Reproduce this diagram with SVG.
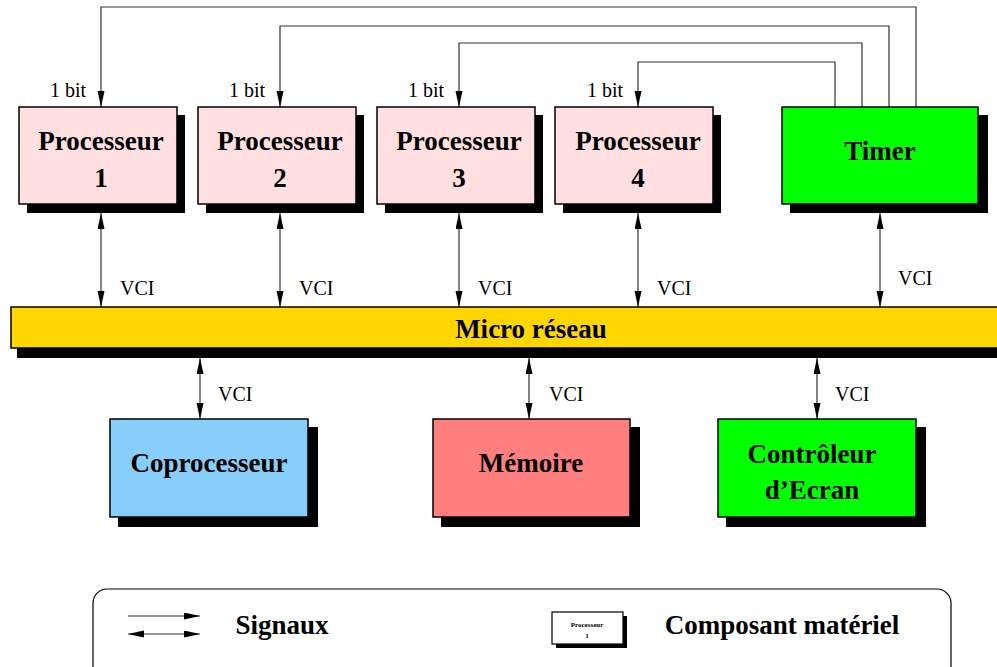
<svg xmlns="http://www.w3.org/2000/svg" width="997" height="667" viewBox="0 0 997 667">
<style>
.box{stroke:#000;stroke-width:1.5}
.sh{fill:#000}
.t{font-family:"Liberation Serif","Times New Roman",serif;font-weight:bold;font-size:27px;text-anchor:middle;fill:#000}
.s{font-family:"Liberation Serif","Times New Roman",serif;font-size:20px;fill:#000}
.c{fill:none;stroke:#333;stroke-width:1.2}
.proc{fill:#ffdfdf}
</style>
<defs>
<marker id="ah" markerUnits="userSpaceOnUse" markerWidth="17" markerHeight="8" refX="16" refY="3.5" orient="auto-start-reverse">
<path d="M0,0 L16,3.5 L0,7 z" fill="#000"/>
</marker>
</defs>
<rect width="997" height="667" fill="#fff"/>

<g id="connectors">
<path class="c" d="M916,107 V7 H101 V107" marker-end="url(#ah)"/>
<path class="c" d="M889,107 V26 H280 V107" marker-end="url(#ah)"/>
<path class="c" d="M862,107 V43 H459 V107" marker-end="url(#ah)"/>
<path class="c" d="M835,107 V62 H638 V107" marker-end="url(#ah)"/>
<line class="c" x1="101" y1="213" x2="101" y2="307" marker-start="url(#ah)" marker-end="url(#ah)"/>
<line class="c" x1="280" y1="213" x2="280" y2="307" marker-start="url(#ah)" marker-end="url(#ah)"/>
<line class="c" x1="459" y1="213" x2="459" y2="307" marker-start="url(#ah)" marker-end="url(#ah)"/>
<line class="c" x1="638" y1="213" x2="638" y2="307" marker-start="url(#ah)" marker-end="url(#ah)"/>
<line class="c" x1="880" y1="213" x2="880" y2="307" marker-start="url(#ah)" marker-end="url(#ah)"/>
<line class="c" x1="200" y1="358" x2="200" y2="419" marker-start="url(#ah)" marker-end="url(#ah)"/>
<line class="c" x1="529" y1="358" x2="529" y2="419" marker-start="url(#ah)" marker-end="url(#ah)"/>
<line class="c" x1="817" y1="358" x2="817" y2="419" marker-start="url(#ah)" marker-end="url(#ah)"/>
<text class="s" x="50" y="97">1 bit</text>
<text class="s" x="229" y="97">1 bit</text>
<text class="s" x="408" y="97">1 bit</text>
<text class="s" x="587" y="97">1 bit</text>
<text class="s" x="120" y="295">VCI</text>
<text class="s" x="299" y="295">VCI</text>
<text class="s" x="478" y="295">VCI</text>
<text class="s" x="657" y="295">VCI</text>
<text class="s" x="898" y="285">VCI</text>
<text class="s" x="218" y="401">VCI</text>
<text class="s" x="549" y="401">VCI</text>
<text class="s" x="835" y="401">VCI</text>
</g>

<g id="proc1">
<rect class="sh" x="27" y="115" width="158" height="98"/>
<rect class="box proc" x="19" y="107" width="158" height="97"/>
<text class="t" x="101" y="150">Processeur</text>
<text class="t" x="101" y="187">1</text>
</g>
<g id="proc2">
<rect class="sh" x="206" y="115" width="158" height="98"/>
<rect class="box proc" x="198" y="107" width="158" height="97"/>
<text class="t" x="280" y="150">Processeur</text>
<text class="t" x="280" y="187">2</text>
</g>
<g id="proc3">
<rect class="sh" x="385" y="115" width="158" height="98"/>
<rect class="box proc" x="377" y="107" width="158" height="97"/>
<text class="t" x="459" y="150">Processeur</text>
<text class="t" x="459" y="187">3</text>
</g>
<g id="proc4">
<rect class="sh" x="563" y="115" width="158" height="98"/>
<rect class="box proc" x="555" y="107" width="158" height="97"/>
<text class="t" x="638" y="150">Processeur</text>
<text class="t" x="638" y="187">4</text>
</g>
<g id="timer">
<rect class="sh" x="790" y="115" width="198" height="98"/>
<rect class="box" fill="#00ff00" x="782" y="107" width="196" height="97"/>
<text class="t" x="880" y="160">Timer</text>
</g>
<g id="bus">
<rect class="sh" x="17" y="315" width="990" height="43"/>
<rect class="box" fill="#ffd700" x="11" y="307" width="995" height="41"/>
<text class="t" x="531" y="338">Micro réseau</text>
</g>
<g id="coproc">
<rect class="sh" x="118" y="427" width="200" height="100"/>
<rect class="box" fill="#87cefa" x="110" y="419" width="198" height="98"/>
<text class="t" x="209" y="472">Coprocesseur</text>
</g>
<g id="memoire">
<rect class="sh" x="441" y="427" width="199" height="100"/>
<rect class="box" fill="#ff7f7f" x="433" y="419" width="197" height="98"/>
<text class="t" x="531" y="472">Mémoire</text>
</g>
<g id="controleur">
<rect class="sh" x="726" y="427" width="200" height="100"/>
<rect class="box" fill="#00ff00" x="718" y="419" width="198" height="98"/>
<text class="t" x="812" y="463">Contrôleur</text>
<text class="t" x="812" y="499">d’Ecran</text>
</g>

<g id="legend">
<rect x="93" y="589" width="858" height="110" rx="14" fill="none" stroke="#000" stroke-width="1.2"/>
<line class="c" x1="128" y1="616" x2="200" y2="616" marker-end="url(#ah)"/>
<line class="c" x1="128" y1="634" x2="200" y2="634" marker-start="url(#ah)" marker-end="url(#ah)"/>
<text class="t" x="282" y="634">Signaux</text>
<rect class="sh" x="556" y="616" width="71" height="32"/>
<rect fill="#fff" stroke="#000" stroke-width="1.2" x="552" y="612" width="71" height="32"/>
<text class="t" x="587" y="627" style="font-size:7px">Processeur</text>
<text class="t" x="587" y="638" style="font-size:7px">1</text>
<text class="t" x="782" y="634">Composant matériel</text>
</g>
</svg>
